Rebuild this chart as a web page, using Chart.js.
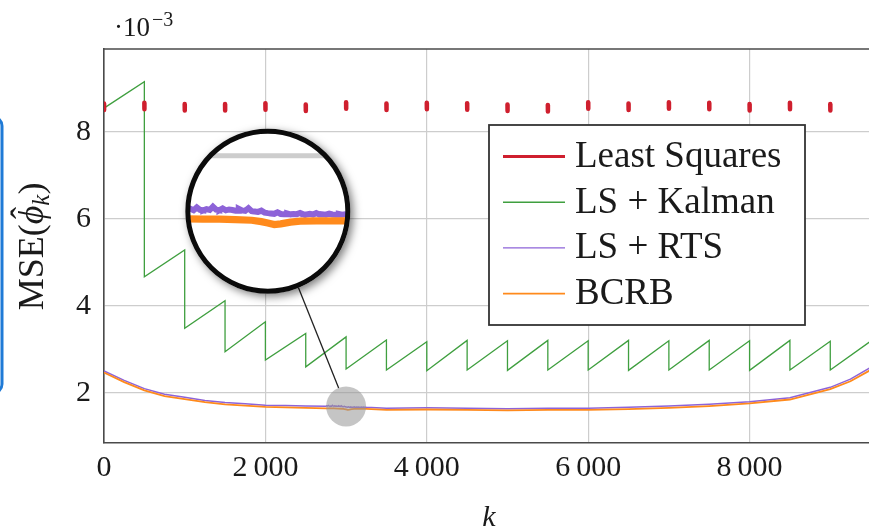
<!DOCTYPE html>
<html>
<head>
<meta charset="utf-8">
<script src="https://cdn.jsdelivr.net/npm/chart.js@4/dist/chart.umd.min.js"></script>
<style>
  html, body { margin: 0; padding: 0; background: #fff; overflow: hidden; }
  #wrap { position: relative; width: 869px; height: 529px; }
</style>
</head>
<body>
<div id="wrap"><canvas id="c" width="869" height="529"></canvas></div>
<script>
// ---- axes ----
const xRange = [0, 9480];
const yRange = [0.85, 9.91];
const xTickValues = [0, 2000, 4000, 6000, 8000];
const xTickLabels = ['0', '2\u2009000', '4\u2009000', '6\u2009000', '8\u2009000'];
const yTickValues = [2, 4, 6, 8];
const yTickLabels = ['2', '4', '6', '8'];

// ---- Least Squares: one estimate every 500 samples (MSE in units of 1e-3) ----
const lsK   = [0, 500, 1000, 1500, 2000, 2500, 3000, 3500, 4000, 4500, 5000, 5500, 6000, 6500, 7000, 7500, 8000, 8500, 9000];
const lsMSE = [8.58, 8.60, 8.57, 8.57, 8.59, 8.56, 8.61, 8.58, 8.60, 8.59, 8.56, 8.55, 8.61, 8.58, 8.61, 8.60, 8.57, 8.60, 8.57];

// ---- LS + Kalman: sawtooth, reset at every new LS estimate ----
const kalmanK = [0, 500, 500, 1000, 1000, 1500, 1500, 2000, 2000, 2500, 2500, 3000, 3000, 3500, 3500,
                 4000, 4000, 4500, 4500, 5000, 5000, 5500, 5500, 6000, 6000, 6500, 6500, 7000, 7000,
                 7500, 7500, 8000, 8000, 8500, 8500, 9000, 9000, 9500];
const kalmanMSE = [8.55, 9.16, 4.67, 5.29, 3.49, 4.12, 2.95, 3.64, 2.76, 3.37, 2.60, 3.29, 2.55, 3.22, 2.53,
                   3.18, 2.51, 3.21, 2.53, 3.20, 2.52, 3.21, 2.53, 3.20, 2.53, 3.21, 2.52, 3.20, 2.53,
                   3.21, 2.53, 3.20, 2.52, 3.21, 2.53, 3.19, 2.53, 3.19];

// ---- LS + RTS and BCRB, coarse samples ----
const smoothK = [0, 250, 500, 750, 1000, 1250, 1500, 1750, 2000, 2250, 2500,
                 3500, 4000, 4500, 5000, 5500, 6000, 6500, 7000, 7500, 8000, 8500, 9000, 9250, 9500];
const rtsMSE  = [2.51, 2.29, 2.10, 1.97, 1.90, 1.83, 1.78, 1.75, 1.72, 1.71, 1.70,
                 1.65, 1.66, 1.65, 1.64, 1.65, 1.65, 1.67, 1.70, 1.74, 1.80, 1.89, 2.13, 2.32, 2.59];
const bcrbMSE = [2.47, 2.25, 2.06, 1.93, 1.86, 1.79, 1.74, 1.71, 1.68, 1.67, 1.66,
                 1.61, 1.62, 1.61, 1.60, 1.61, 1.61, 1.63, 1.66, 1.70, 1.76, 1.85, 2.09, 2.27, 2.53];

// ---- fine detail around k = 3000 (shown in the magnifier) ----
const rtsDetailStart = 2750, rtsDetailStep = 10;
const rtsDetailMSE = [1.697, 1.704, 1.696, 1.712, 1.698, 1.695, 1.702, 1.697, 1.716, 1.699,
                      1.696, 1.706, 1.695, 1.700, 1.697, 1.693, 1.704, 1.695, 1.692, 1.707,
                      1.690, 1.688, 1.686, 1.693, 1.682, 1.679, 1.677, 1.675, 1.684, 1.674,
                      1.673, 1.677, 1.672, 1.674, 1.673, 1.680, 1.672, 1.671, 1.675, 1.671,
                      1.679, 1.671, 1.672, 1.670, 1.676, 1.671, 1.670, 1.674, 1.670, 1.672, 1.670];
const bcrbDetailK   = [2750, 2800, 2850, 2900, 2950, 2980, 3000, 3020, 3040, 3070, 3100, 3150, 3200, 3250];
const bcrbDetailMSE = [1.646, 1.645, 1.644, 1.642, 1.638, 1.630, 1.622, 1.613, 1.617, 1.627, 1.633, 1.634, 1.634, 1.635];

// ---- magnifier ----
const spotCenter  = { k: 3000, mse: 1.69 };
const insetCenter = { k: 2030, mse: 6.18 };
const magnification = 4;
const SPOT_R = 20;
const INSET_R = SPOT_R * magnification;

const FONT = "'Liberation Serif', 'DejaVu Serif', serif";
const TEXT = '#1a1a1a';
const RED = '#cf1f2e', GREEN = '#3f9f3f', PURPLE = '#8d63d8', ORANGE = '#ff8a1c';
const BLOB = 0.075; // half-height of each LS burst mark

// build point lists
const lsData = [];
lsK.forEach((k, i) => {
  lsData.push({ x: k, y: lsMSE[i] + BLOB }, { x: k + 1, y: lsMSE[i] - BLOB }, { x: k + 1, y: null });
});
const kalmanData = kalmanK.map((k, i) => ({ x: k, y: kalmanMSE[i] }));

function merged(coarseK, coarseV, fineK, fineV) {
  const pts = coarseK.map((k, i) => ({ x: k, y: coarseV[i] }))
    .concat(fineK.map((k, i) => ({ x: k, y: fineV[i] })));
  return pts.sort((a, b) => a.x - b.x);
}
const rtsDetailK = rtsDetailMSE.map((_, i) => rtsDetailStart + i * rtsDetailStep);
const rtsData  = merged(smoothK, rtsMSE, rtsDetailK, rtsDetailMSE);
const bcrbData = merged(smoothK, bcrbMSE, bcrbDetailK, bcrbDetailMSE);

const legendLineWidths = [3, 1.5, 1.2, 1.6];

const decorations = {
  id: 'decorations',
  beforeDraw(chart) {
    const ctx = chart.ctx;
    ctx.save();
    ctx.fillStyle = '#fff';
    ctx.fillRect(0, 0, chart.width, chart.height);
    // blue frame edge at the far left
    ctx.strokeStyle = '#1f7ad6';
    ctx.lineWidth = 3;
    ctx.beginPath();
    ctx.roundRect(-30, 117, 32, 276, 9);
    ctx.stroke();
    ctx.restore();
  },
  afterDraw(chart) {
    const { ctx, chartArea: a } = chart;
    const x = chart.scales.x, y = chart.scales.y;

    // top frame line
    ctx.save();
    ctx.strokeStyle = '#4a4a4a';
    ctx.lineWidth = 1.6;
    ctx.beginPath();
    ctx.moveTo(a.left - 0.8, a.top);
    ctx.lineTo(a.right, a.top);
    ctx.stroke();
    ctx.restore();

    const sx = x.getPixelForValue(spotCenter.k), sy = y.getPixelForValue(spotCenter.mse);
    const cx = x.getPixelForValue(insetCenter.k), cy = y.getPixelForValue(insetCenter.mse);

    // spot marking the magnified region
    ctx.save();
    ctx.fillStyle = 'rgba(150,150,150,0.55)';
    ctx.beginPath();
    ctx.arc(sx, sy, SPOT_R, 0, 2 * Math.PI);
    ctx.fill();
    ctx.restore();

    // connector
    const dx = sx - cx, dy = sy - cy, d = Math.hypot(dx, dy);
    ctx.save();
    ctx.strokeStyle = '#222';
    ctx.lineWidth = 1.3;
    ctx.beginPath();
    ctx.moveTo(cx + dx / d * INSET_R, cy + dy / d * INSET_R);
    ctx.lineTo(sx - dx / d * SPOT_R, sy - dy / d * SPOT_R);
    ctx.stroke();
    ctx.restore();

    // magnifier disc with soft shadow
    ctx.save();
    ctx.shadowColor = 'rgba(0,0,0,0.5)';
    ctx.shadowBlur = 9;
    ctx.shadowOffsetX = 3;
    ctx.shadowOffsetY = 3;
    ctx.fillStyle = '#fff';
    ctx.beginPath();
    ctx.arc(cx, cy, INSET_R + 2.5, 0, 2 * Math.PI);
    ctx.fill();
    ctx.restore();

    // magnified grid + series
    ctx.save();
    ctx.beginPath();
    ctx.arc(cx, cy, INSET_R, 0, 2 * Math.PI);
    ctx.clip();
    ctx.translate(cx, cy);
    ctx.scale(magnification, magnification);
    ctx.translate(-sx, -sy);
    y.drawGrid(a);
    x.drawGrid(a);
    const metas = chart.getSortedVisibleDatasetMetas();
    for (let i = metas.length - 1; i >= 0; i--) metas[i].controller.draw();
    ctx.restore();

    // magnifier ring
    ctx.save();
    ctx.strokeStyle = '#0b0b0b';
    ctx.lineWidth = 5;
    ctx.beginPath();
    ctx.arc(cx, cy, INSET_R, 0, 2 * Math.PI);
    ctx.stroke();
    ctx.restore();

    // legend
    ctx.save();
    const L = { left: 489, top: 125, width: 316, height: 200 };
    ctx.fillStyle = '#fff';
    ctx.fillRect(L.left, L.top, L.width, L.height);
    ctx.strokeStyle = '#333';
    ctx.lineWidth = 1.8;
    ctx.strokeRect(L.left, L.top, L.width, L.height);
    ctx.font = '37px ' + FONT;
    ctx.textBaseline = 'alphabetic';
    ctx.textAlign = 'left';
    chart.data.datasets.forEach((ds, i) => {
      const ly = 156.5 + i * 45.7;
      ctx.strokeStyle = ds.borderColor;
      ctx.lineWidth = legendLineWidths[i];
      ctx.beginPath();
      ctx.moveTo(503, ly);
      ctx.lineTo(565, ly);
      ctx.stroke();
      ctx.fillStyle = TEXT;
      ctx.fillText(ds.label, 575, ly + 10.5);
    });
    ctx.restore();

    // y-axis title: MSE(phi-hat_k)
    ctx.save();
    ctx.translate(32, 246.5);
    ctx.rotate(-Math.PI / 2);
    ctx.fillStyle = TEXT;
    ctx.textBaseline = 'alphabetic';
    const reg = '36px ' + FONT, ita = 'italic 36px ' + FONT, sub = 'italic 25px ' + FONT;
    ctx.font = reg; const w1 = ctx.measureText('MSE(').width, w4 = ctx.measureText(')').width;
    ctx.font = ita; const w2 = ctx.measureText('\u03D5').width;
    ctx.font = sub; const w3 = ctx.measureText('k').width;
    let px = -(w1 + w2 + w3 + w4) / 2;
    const base = 11;
    ctx.font = reg; ctx.fillText('MSE(', px, base); px += w1;
    ctx.font = ita; ctx.fillText('\u03D5', px, base);
    ctx.font = reg; ctx.textAlign = 'center'; ctx.fillText('\u02C6', px + w2 / 2 + 2, base - 7);
    ctx.textAlign = 'left'; px += w2;
    ctx.font = sub; ctx.fillText('k', px, base + 6); px += w3;
    ctx.font = reg; ctx.fillText(')', px, base);
    ctx.restore();

    // axis multiplier
    ctx.save();
    ctx.fillStyle = TEXT;
    ctx.textBaseline = 'alphabetic';
    ctx.font = '27px ' + FONT;
    ctx.fillText('\u00B710', 114, 36);
    const wm = ctx.measureText('\u00B710').width;
    ctx.font = '20px ' + FONT;
    ctx.fillText('\u22123', 114 + wm + 2, 26);
    ctx.restore();

    // x-axis title
    ctx.save();
    ctx.fillStyle = TEXT;
    ctx.font = 'italic 30px ' + FONT;
    ctx.textAlign = 'center';
    ctx.textBaseline = 'alphabetic';
    ctx.fillText('k', 489, 526);
    ctx.restore();
  }
};

new Chart(document.getElementById('c'), {
  type: 'line',
  data: {
    datasets: [
      { label: 'Least Squares', data: lsData, borderColor: RED, borderWidth: 4.5,
        borderCapStyle: 'round', spanGaps: false, pointRadius: 0, order: 0 },
      { label: 'LS + Kalman', data: kalmanData, borderColor: GREEN, borderWidth: 1.3,
        pointRadius: 0, order: 1 },
      { label: 'LS + RTS', data: rtsData, borderColor: PURPLE, borderWidth: 1.5,
        pointRadius: 0, order: 3 },
      { label: 'BCRB', data: bcrbData, borderColor: ORANGE, borderWidth: 1.8,
        pointRadius: 0, order: 2 }
    ]
  },
  options: {
    responsive: false,
    animation: false,
    events: [],
    layout: { padding: { left: 0, top: 49, right: 0, bottom: 0 } },
    elements: { line: { tension: 0, fill: false } },
    plugins: { legend: { display: false }, tooltip: { enabled: false } },
    scales: {
      x: {
        type: 'linear',
        min: xRange[0], max: xRange[1],
        afterBuildTicks: s => { s.ticks = xTickValues.map(v => ({ value: v })); },
        afterFit: s => { s.height = 86; s.paddingLeft = 0; s.paddingRight = 0; },
        grid: { color: '#cdcdcd', lineWidth: 1.2, drawTicks: false },
        border: { color: '#4a4a4a', width: 1.6 },
        ticks: {
          padding: 7, color: TEXT, maxRotation: 0, autoSkip: false,
          font: { family: FONT, size: 30 },
          callback: v => xTickLabels[xTickValues.indexOf(v)]
        }
      },
      y: {
        type: 'linear',
        min: yRange[0], max: yRange[1],
        afterBuildTicks: s => { s.ticks = yTickValues.map(v => ({ value: v })); },
        afterFit: s => { s.width = 104; s.paddingTop = 0; s.paddingBottom = 0; },
        grid: { color: '#cdcdcd', lineWidth: 1.2, drawTicks: false },
        border: { color: '#4a4a4a', width: 1.6 },
        ticks: {
          padding: 13, color: TEXT, autoSkip: false,
          font: { family: FONT, size: 30 },
          callback: v => yTickLabels[yTickValues.indexOf(v)]
        }
      }
    }
  },
  plugins: [decorations]
});
</script>
</body>
</html>
